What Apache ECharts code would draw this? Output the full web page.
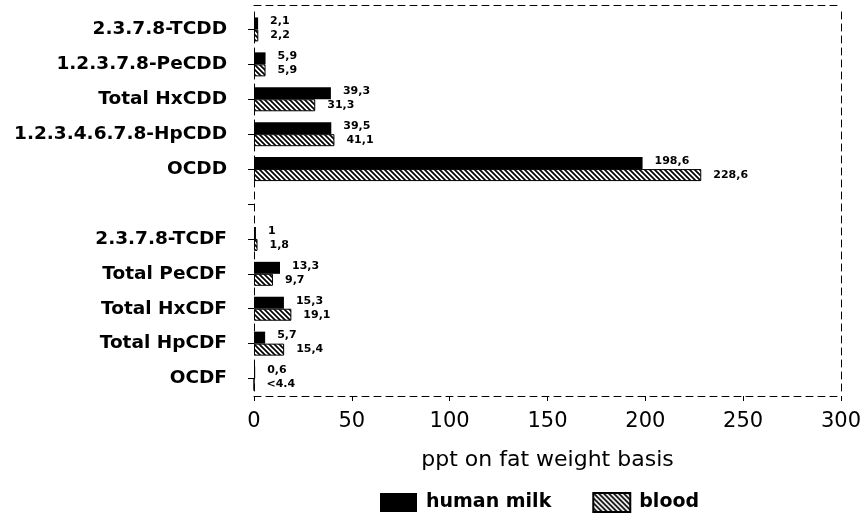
<!DOCTYPE html>
<html><head><meta charset="utf-8">
<script src="https://cdn.jsdelivr.net/npm/echarts@6/dist/echarts.min.js"></script>
<style>html,body{margin:0;padding:0;background:#fff}#c{width:864px;height:515px}</style>
</head><body><div id="c"></div>
<script>
const categories = ['2.3.7.8-TCDD','1.2.3.7.8-PeCDD','Total HxCDD','1.2.3.4.6.7.8-HpCDD','OCDD','','2.3.7.8-TCDF','Total PeCDF','Total HxCDF','Total HpCDF','OCDF'];
const humanMilk = [2.1, 5.9, 39.3, 39.5, 198.6, null, 1, 13.3, 15.3, 5.7, 0.6];
const blood = [2.2, 5.9, 31.3, 41.1, 228.6, null, 1.8, 9.7, 19.1, 15.4, 0];
const milkLabels = ['2,1','5,9','39,3','39,5','198,6','','1','13,3','15,3','5,7','0,6'];
const bloodLabels = ['2,2','5,9','31,3','41,1','228,6','','1,8','9,7','19,1','15,4','<4.4'];
const xTicks = [0, 50, 100, 150, 200, 250, 300];

function hatch() {
  const s = 5;
  const c = document.createElement('canvas');
  c.width = s; c.height = s;
  const g = c.getContext('2d');
  g.fillStyle = '#fff'; g.fillRect(0,0,s,s);
  g.strokeStyle = '#000'; g.lineWidth = 1.7;
  g.beginPath();
  g.moveTo(-1,-1); g.lineTo(s+1,s+1);
  g.moveTo(-1,s-1); g.lineTo(1,s+1);
  g.moveTo(s-1,-1); g.lineTo(s+1,1);
  g.stroke();
  return c;
}
const pattern = {image: hatch(), repeat: 'repeat'};
const font = 'DejaVu Sans';
const chart = echarts.init(document.getElementById('c'), null, {renderer: 'canvas'});
const dash = [7, 5];
chart.setOption({
  animation: false,
  textStyle: {fontFamily: font, color: '#000'},
  grid: {left: 254, right: 23, top: 12, bottom: 119, containLabel: false},
  legend: {
    left: 375, top: 487, itemWidth: 37, itemHeight: 19, itemGap: 41, icon: 'rect',
    textStyle: {fontFamily: font, fontSize: 19, fontWeight: 'bold', color: '#000', padding: [0,0,0,4]},
    data: ['human milk', 'blood']
  },
  xAxis: [{
    type: 'value', min: xTicks[0], max: xTicks[xTicks.length-1], interval: 50,
    name: 'ppt on fat weight basis', nameLocation: 'middle', nameGap: 53,
    nameTextStyle: {fontFamily: font, fontSize: 22, color: '#000'},
    axisLine: {show: true, lineStyle: {color: '#000', type: dash, width: 1}},
    axisTick: {show: true, inside: false, length: 5, lineStyle: {color: '#000'}},
    axisLabel: {fontFamily: font, fontSize: 21, color: '#000', margin: 15},
    splitLine: {show: false}
  }, {
    type: 'value', position: 'top', offset: 7, min: 0, max: 300,
    axisLine: {show: true, onZero: false, lineStyle: {color: '#000', type: dash, width: 1}},
    axisTick: {show: false}, axisLabel: {show: false}, splitLine: {show: false}
  }],
  yAxis: [{
    type: 'category', data: categories, inverse: true,
    axisLine: {show: true, onZero: false, lineStyle: {color: '#000', type: dash, width: 1}},
    axisTick: {show: true, alignWithLabel: true, length: 6, lineStyle: {color: '#000'}},
    axisLabel: {fontFamily: font, fontSize: 18.5, fontWeight: 'bold', color: '#000', margin: 27}
  }, {
    type: 'category', data: categories, inverse: true, position: 'right',
    axisLine: {show: true, onZero: false, lineStyle: {color: '#000', type: dash, width: 1}},
    axisTick: {show: false}, axisLabel: {show: false}
  }],
  series: [{
    name: 'human milk', type: 'bar', data: humanMilk, barWidth: 12, barGap: '0%',
    itemStyle: {color: '#000'},
    label: {show: true, position: 'right', distance: 12, offset: [0, -2],
      fontFamily: font, fontSize: 11, fontWeight: 'bold', color: '#000',
      formatter: p => milkLabels[p.dataIndex]}
  }, {
    name: 'blood', type: 'bar', data: blood, barWidth: 12, barGap: '0%',
    itemStyle: {color: pattern, borderColor: '#000', borderWidth: 1},
    label: {show: true, position: 'right', distance: 12, offset: [0, 0],
      fontFamily: font, fontSize: 11, fontWeight: 'bold', color: '#000',
      formatter: p => bloodLabels[p.dataIndex]}
  }]
});
</script></body></html>
